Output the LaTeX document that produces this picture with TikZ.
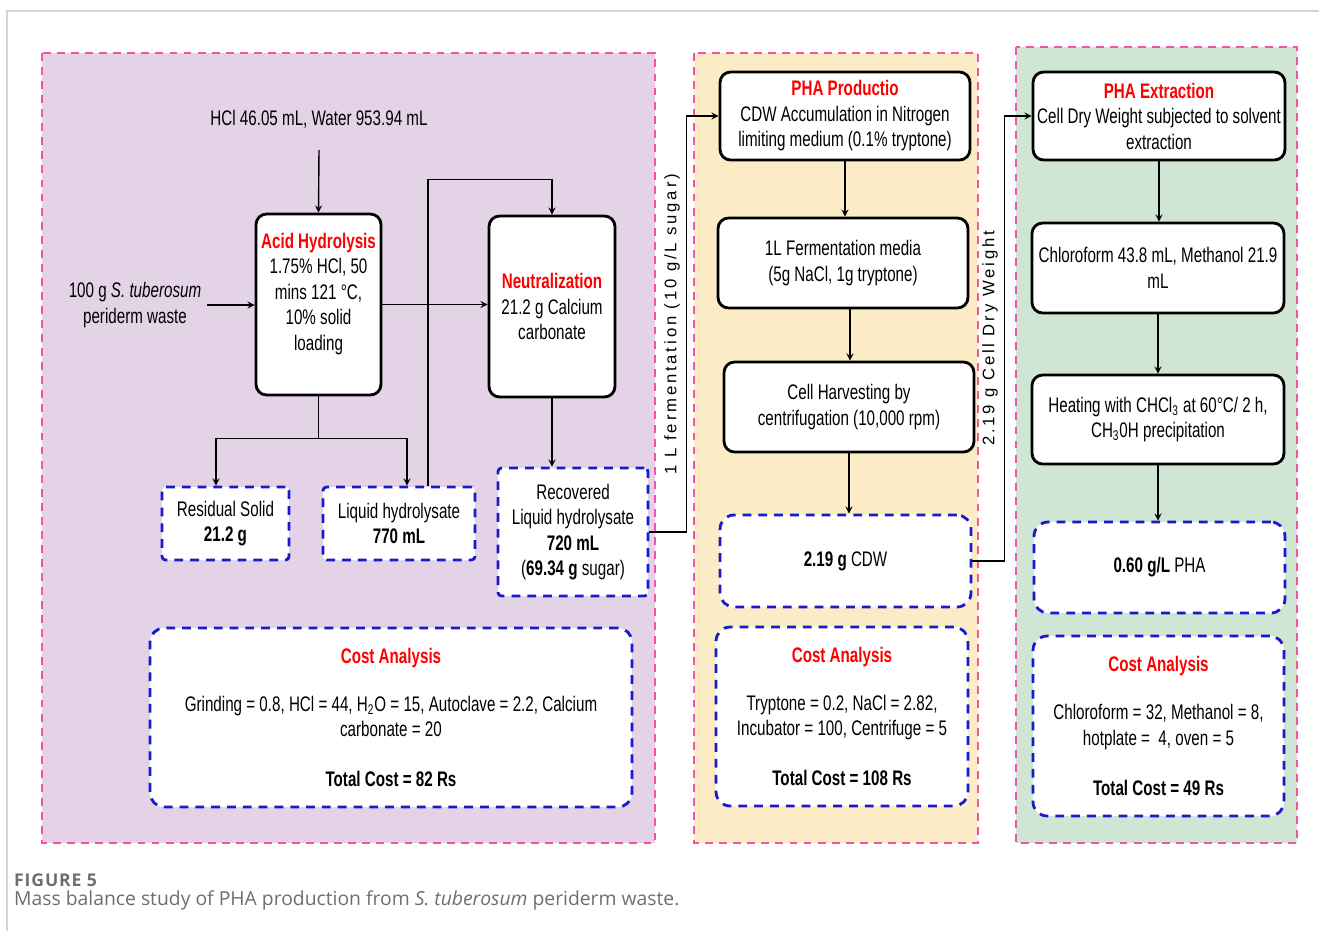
\documentclass[tikz,border=0pt]{standalone}
\usepackage{fontspec}
\setmainfont{Liberation Sans}[FakeStretch=0.72]
\newfontfamily\flowlabel{Liberation Sans}[LetterSpace=17]
\newfontfamily\capfont{Open Sans}
\newfontfamily\fignofont{Open Sans}[LetterSpace=5]
\usetikzlibrary{positioning}

\definecolor{hydropurple}{RGB}{228,211,231}
\definecolor{fermyellow}{RGB}{252,236,197}
\definecolor{extgreen}{RGB}{207,230,212}
\definecolor{panelpink}{RGB}{245,80,170}
\definecolor{dashblue}{RGB}{25,25,205}
\definecolor{framegray}{RGB}{212,212,212}
\definecolor{captiongray}{RGB}{110,110,110}

\newcommand{\redtitle}[1]{\textcolor{red}{\bfseries #1}}

\begin{document}
\begin{tikzpicture}[
            x=0.02cm, y=-0.02cm,
            font=\fontsize{12}{14.5}\selectfont,
            panel/.style={draw=panelpink, line width=1.3pt, dash pattern=on 4.5pt off 3.5pt},
            stepbox/.style={draw, line width=1.6pt, rounded corners=6pt, fill=white,
                    align=center, inner sep=2pt},
            resultbox/.style={draw=dashblue, line width=1.6pt, dash pattern=on 5pt off 4pt,
                    rounded corners=2pt, fill=white, align=center, inner sep=2pt},
            costbox/.style={resultbox, rounded corners=8pt},
            flowtext/.style={font=\flowlabel\fontsize{9.5}{11}\selectfont},
            arrow/.style={->, >=stealth, line width=0.8pt}
        ]
        \useasboundingbox (0,0) rectangle (1319,931);
        \draw[framegray, line width=0.6pt] (7,931) -- (7,11) -- (1319,11);

        % the three stages
        \draw[panel, fill=hydropurple] (42,53) rectangle (655,843);
        \draw[panel, fill=fermyellow] (694,53) rectangle (978,843);
        \draw[panel, fill=extgreen] (1016,47) rectangle (1297,843);

        % hydrolysis
        \node (hcl) at (319,119) {HCl 46.05 mL, Water 953.94 mL};
        \node[align=center] (waste) at (135,305) {100 g \textit{S. tuberosum}\\periderm waste};
        \node[stepbox, minimum width=2.5cm, minimum height=3.62cm] (acid) at (318.5,304.5)
            {\redtitle{Acid Hydrolysis}\\1.75\% HCl, 50\\mins 121 °C,\\10\% solid\\loading\\ \mbox{}};
        \node[stepbox, minimum width=2.52cm, minimum height=3.62cm] (neut) at (552,306.5)
            {\redtitle{Neutralization}\\21.2 g Calcium\\carbonate};
        \node[resultbox, minimum width=2.54cm, minimum height=1.46cm] (resid) at (225.5,523.5)
            {Residual Solid\\\textbf{21.2 g}};
        \node[resultbox, minimum width=3.04cm, minimum height=1.46cm] (liq) at (399,523.5)
            {Liquid hydrolysate\\\textbf{770 mL}};
        \node[resultbox, minimum width=3.0cm, minimum height=2.56cm] (recov) at (573,532)
            {Recovered\\Liquid hydrolysate\\\textbf{720 mL}\\(\textbf{69.34 g} sugar)};
        \node[costbox, minimum width=9.64cm, minimum height=3.58cm] (costhyd) at (391,717.5)
            {\redtitle{Cost Analysis}\\[13pt]Grinding = 0.8, HCl = 44, H\textsubscript{2}O = 15, Autoclave = 2.2, Calcium\\carbonate = 20\\[14pt]\textbf{Total Cost = 82 Rs}};

        % fermentation
        \node[stepbox, minimum width=5.0cm, minimum height=1.76cm] (prod) at (845,116)
            {\redtitle{PHA Productio}\\CDW Accumulation in Nitrogen\\limiting medium (0.1\% tryptone)};
        \node[stepbox, minimum width=5.0cm, minimum height=1.8cm] (ferm) at (843,263)
            {1L Fermentation media\\(5g NaCl, 1g tryptone)};
        \node[stepbox, minimum width=5.0cm, minimum height=1.8cm] (harv) at (849,407)
            {Cell Harvesting by\\centrifugation (10,000 rpm)};
        \node[costbox, minimum width=5.02cm, minimum height=1.84cm] (cdw) at (845.5,561)
            {\textbf{2.19 g} CDW};
        \node[costbox, minimum width=5.04cm, minimum height=3.58cm] (costferm) at (842,716.5)
            {\redtitle{Cost Analysis}\\[13pt]Tryptone = 0.2, NaCl = 2.82,\\Incubator = 100, Centrifuge = 5\\[14pt]\textbf{Total Cost = 108 Rs}};

        % extraction
        \node[stepbox, minimum width=5.04cm, minimum height=1.76cm] (ext) at (1159,116)
            {\redtitle{PHA Extraction}\\Cell Dry Weight subjected to solvent\\extraction};
        \node[stepbox, minimum width=5.04cm, minimum height=1.8cm] (chl) at (1158,268)
            {Chloroform 43.8 mL, Methanol 21.9\\mL};
        \node[stepbox, minimum width=5.04cm, minimum height=1.78cm] (heat) at (1158,419.5)
            {Heating with CHCl\textsubscript{3} at 60°C/ 2 h,\\CH\textsubscript{3}0H precipitation};
        \node[costbox, minimum width=5.02cm, minimum height=1.82cm] (pha) at (1159.5,567.5)
            {\textbf{0.60 g/L} PHA};
        \node[costbox, minimum width=5.02cm, minimum height=3.6cm] (costext) at (1158.5,726)
            {\redtitle{Cost Analysis}\\[13pt]Chloroform = 32, Methanol = 8,\\hotplate = ~4, oven = 5\\[14pt]\textbf{Total Cost = 49 Rs}};

        \draw[arrow] ([yshift=-0.32cm]hcl.south) -- (acid.north);
        \draw[arrow] (waste.east) -- (waste.east -| acid.west);
        \draw[arrow] (acid.east) -- (acid.east -| neut.west);
        \draw (acid.south) -- ++(0,42) coordinate (split);
        \draw[arrow] (split) -| ([xshift=-0.19cm]resid.north);
        \draw[arrow] (split) -| ([xshift=0.16cm]liq.north);
        \draw[arrow] ([xshift=0.58cm]liq.north) |- ([yshift=0.7cm]neut.north) -- (neut.north);
        \draw[arrow] (neut.south) -- (recov.north -| neut.south);
        \draw[arrow] (recov.east) -- ++(37,0) |- node[flowtext, pos=0.25, rotate=90, above] {1 L fermentation (10 g/L sugar)} (prod.west);

        \draw[arrow] (prod.south) -- (prod.south |- ferm.north);
        \draw[arrow] ([xshift=0.14cm]ferm.south) -- ([xshift=0.14cm]ferm.south |- harv.north);
        \draw[arrow] (harv.south) -- (harv.south |- cdw.north);
        \draw[arrow] (cdw.east) -- ++(32,0) |- node[flowtext, pos=0.25, rotate=90, above] {2.19 g Cell Dry Weight} (ext.west);

        \draw[arrow] (ext.south) -- (ext.south |- chl.north);
        \draw[arrow] (chl.south) -- (chl.south |- heat.north);
        \draw[arrow] (heat.south) -- (heat.south |- pha.north);

        % caption
        \node[anchor=west, text=captiongray, font=\fignofont\bfseries\fontsize{10}{12}\selectfont] (figno) at (8,880) {FIGURE 5};
        \node[anchor=west, text=captiongray, font=\capfont\fontsize{11}{13}\selectfont] (caption) at (8,900)
            {Mass balance study of PHA production from \textit{S. tuberosum} periderm waste.};
    \end{tikzpicture}
\end{document}
